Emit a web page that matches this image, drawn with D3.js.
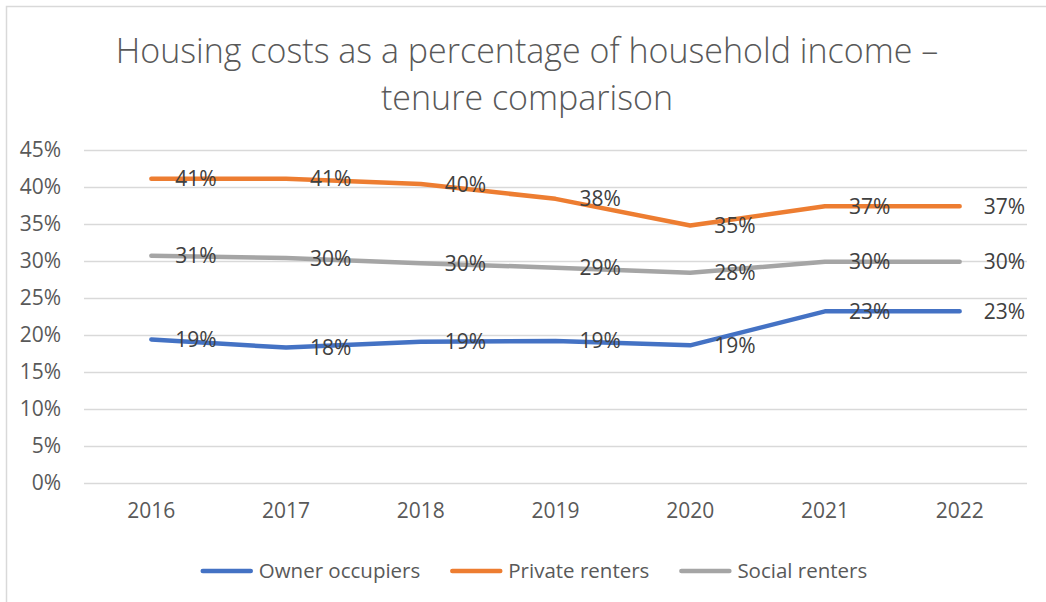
<!DOCTYPE html>
<html>
<head>
<meta charset="utf-8">
<script src="https://cdn.jsdelivr.net/npm/d3@7"></script>
<style>
  body { margin: 0; background: #fff; }
  text { font-family: "Open Sans", sans-serif; }
</style>
</head>
<body>
<div id="chart-area"></div>
<script>
// data
const years = ["2016", "2017", "2018", "2019", "2020", "2021", "2022"];
const ownerOccupiers = [19.4, 18.3, 19.1, 19.2, 18.6, 23.2, 23.2];
const privateRenters = [41.1, 41.1, 40.4, 38.4, 34.8, 37.4, 37.4];
const socialRenters = [30.7, 30.4, 29.7, 29.1, 28.4, 29.9, 29.9];
const yTicks = [0, 5, 10, 15, 20, 25, 30, 35, 40, 45];

const series = [
  { name: "Owner occupiers", values: ownerOccupiers, color: "#4472C4" },
  { name: "Private renters", values: privateRenters, color: "#ED7D31" },
  { name: "Social renters", values: socialRenters, color: "#A5A5A5" }
];

const W = 1046, H = 602;
const margin = { top: 150, right: 19, bottom: 119, left: 84 };
const width = W - margin.left - margin.right;
const height = H - margin.top - margin.bottom;

const svg = d3.select("#chart-area")
  .append("svg")
    .attr("width", W)
    .attr("height", H);

// chart border
svg.append("rect")
    .attr("x", 6.5)
    .attr("y", 6.5)
    .attr("width", W + 20)
    .attr("height", H + 20)
    .attr("fill", "#fff")
    .attr("stroke", "#d9d9d9")
    .attr("stroke-width", 1.5);

const title = svg.append("text")
    .attr("x", 527)
    .attr("text-anchor", "middle")
    .style("font-size", "34px")
    .style("font-weight", 300)
    .attr("fill", "#595959");
title.append("tspan").attr("x", 527).attr("y", 63).text("Housing costs as a percentage of household income –");
title.append("tspan").attr("x", 527).attr("y", 110).text("tenure comparison");

const chart = svg.append("g")
    .attr("transform", `translate(${margin.left},${margin.top})`);

const xScale = d3.scaleBand()
  .domain(years)
  .range([0, width]);

const yScale = d3.scaleLinear()
  .domain([0, 45])
  .range([height, 0]);

// gridlines + y labels
const yAxisGroup = chart.append("g")
    .attr("class", "axis y-axis")
    .call(d3.axisLeft(yScale)
      .tickValues(yTicks)
      .tickSize(-width)
      .tickPadding(23)
      .tickFormat(d => d + "%"));
yAxisGroup.select(".domain").remove();
yAxisGroup.selectAll("line")
    .attr("stroke", "#d9d9d9")
    .attr("stroke-width", 1.5);
yAxisGroup.selectAll("text")
    .attr("fill", "#595959")
    .style("font-size", "21px");

const xAxisGroup = chart.append("g")
    .attr("class", "axis x-axis")
    .attr("transform", `translate(0,${height})`)
    .call(d3.axisBottom(xScale).tickSize(0).tickPadding(20));
xAxisGroup.select(".domain").remove();
xAxisGroup.selectAll("text")
    .attr("fill", "#595959")
    .style("font-size", "21px");

const line = d3.line()
  .x((d, i) => xScale(years[i]) + xScale.bandwidth() / 2)
  .y(d => yScale(d));

series.forEach(s => {
  chart.append("path")
      .datum(s.values)
      .attr("fill", "none")
      .attr("stroke", s.color)
      .attr("stroke-width", 4.5)
      .attr("stroke-linecap", "round")
      .attr("stroke-linejoin", "round")
      .attr("d", line);
});

// data labels
series.forEach(s => {
  chart.selectAll(null)
    .data(s.values)
    .enter()
    .append("text")
      .attr("x", (d, i) => xScale(years[i]) + xScale.bandwidth() / 2 + 24)
      .attr("y", d => yScale(d))
      .attr("dy", "0.36em")
      .attr("fill", "#404040")
      .style("font-size", "21px")
      .text(d => Math.round(d) + "%");
});

// legend
const legend = svg.append("g");
let lx = 0;
const gap = 30;
series.forEach((s, i) => {
  const item = legend.append("g").attr("transform", `translate(${lx},0)`);
  item.append("line")
      .attr("x1", 2).attr("x2", 50)
      .attr("y1", 0).attr("y2", 0)
      .attr("stroke", s.color)
      .attr("stroke-width", 4.5)
      .attr("stroke-linecap", "round");
  const t = item.append("text")
      .attr("x", 58)
      .attr("dy", "0.36em")
      .attr("fill", "#595959")
      .style("font-size", "20.5px")
      .text(s.name);
  lx += 58 + t.node().getComputedTextLength() + gap;
});
const legendWidth = lx - gap;
legend.attr("transform", `translate(${534 - legendWidth / 2},571)`);
</script>
</body>
</html>
